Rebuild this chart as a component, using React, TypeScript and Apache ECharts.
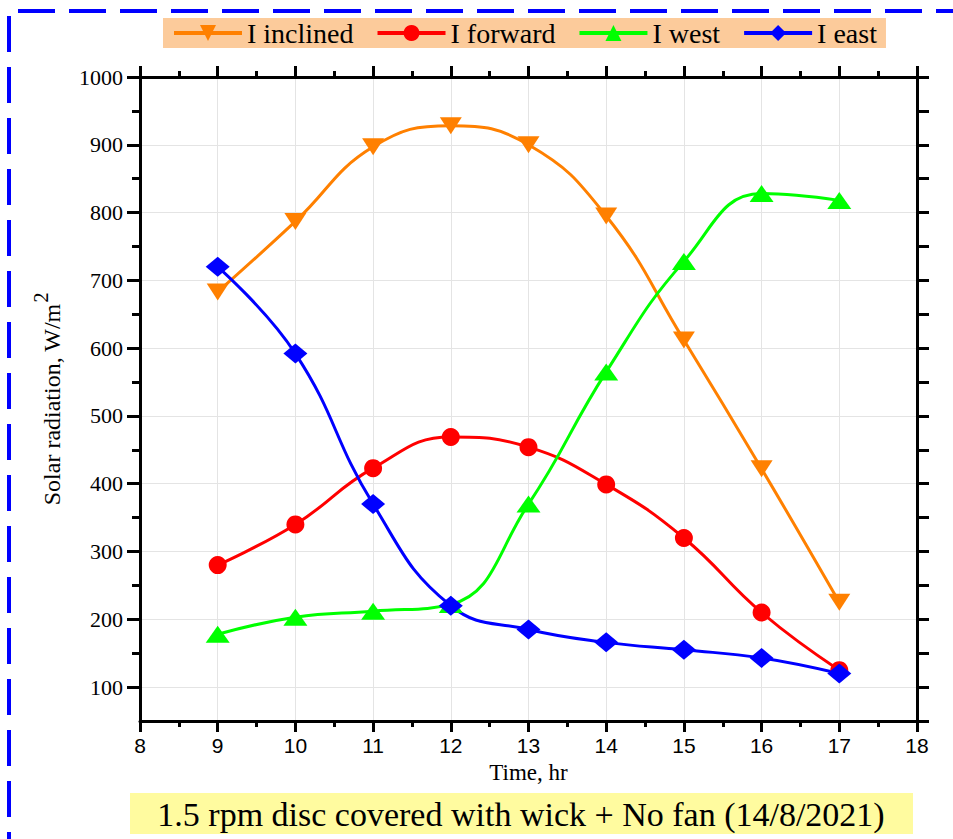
import React, { useEffect, useRef } from "react";
import * as echarts from "echarts";

// Hourly solar radiation readings (W/m²) for the four collector orientations
const hours = [9, 10, 11, 12, 13, 14, 15, 16, 17];
const inclined = [683, 787, 897, 928, 900, 795, 612, 422, 225];
const forward = [280, 340, 423, 469, 454, 399, 320, 210, 125];
const west = [178, 203, 212, 222, 370, 565, 728, 828, 818];
const east = [720, 592, 370, 220, 185, 166, 155, 143, 120];

const yMajorTicks = [100, 200, 300, 400, 500, 600, 700, 800, 900, 1000];
const yMinorTicks = [150, 250, 350, 450, 550, 650, 750, 850, 950];

const seriesNames = ["I inclined", "I forward", "I west", "I east"];
const seriesColors = ["#FF8000", "#FF0000", "#00FF00", "#0000FF"];
const caption = "1.5 rpm disc covered with wick + No fan (14/8/2021)";

const SERIF = "Liberation Serif";
const SANS = "Liberation Sans";

const pairs = (vals: number[]) => hours.map((h, i) => [h, vals[i]]);

export default function App() {
  const ref = useRef<HTMLDivElement>(null);

  useEffect(() => {
    document.body.style.margin = "0";
    const chart = echarts.init(ref.current!, null, { renderer: "svg" });

    const lineSeries = (
      idx: number,
      vals: number[],
      symbol: string,
      symbolSize: number | number[],
      symbolRotate = 0
    ) => ({
      type: "line",
      name: seriesNames[idx],
      data: pairs(vals),
      smooth: 0.45,
      symbol,
      symbolSize,
      symbolRotate,
      xAxisIndex: 0,
      yAxisIndex: 0,
      lineStyle: { color: seriesColors[idx], width: 3 },
      itemStyle: { color: seriesColors[idx] },
      z: 3,
    });

    const axisLine = { show: true, lineStyle: { color: "#000", width: 3 } };

    chart.setOption({
      animation: false,
      backgroundColor: "#fff",
      grid: { left: 140, right: 36, top: 77, bottom: 118 },
      legend: {
        data: seriesNames.map((name) => ({ name })),
        left: 163,
        top: 18,
        padding: [1, 9, 1, 9],
        itemWidth: 68,
        itemHeight: 20,
        itemGap: 22,
        lineStyle: { width: 4 },
        backgroundColor: "#FCCB9B",
        textStyle: { fontFamily: SERIF, fontSize: 28, color: "#000" },
      },
      xAxis: [
        {
          type: "value",
          position: "bottom",
          min: 8,
          max: 18,
          interval: 1,
          name: "Time, hr",
          nameLocation: "middle",
          nameGap: 38,
          nameTextStyle: { fontFamily: SERIF, fontSize: 23, color: "#000" },
          axisLine,
          axisTick: { show: true, length: 11, lineStyle: { color: "#000", width: 3 } },
          minorTick: { show: true, splitNumber: 2, length: 6, lineStyle: { color: "#000", width: 3 } },
          axisLabel: { fontFamily: SANS, fontSize: 21, color: "#000", margin: 14 },
          splitLine: { show: true, lineStyle: { color: "#e4e4e4", width: 1 } },
        },
        {
          type: "value",
          position: "top",
          min: 8,
          max: 18,
          interval: 1,
          axisLine,
          axisTick: { show: true, length: 11, lineStyle: { color: "#000", width: 3 } },
          minorTick: { show: true, splitNumber: 2, length: 6, lineStyle: { color: "#000", width: 3 } },
          axisLabel: { show: false },
          splitLine: { show: false },
        },
      ],
      yAxis: [
        {
          type: "value",
          position: "left",
          min: 50,
          max: 1000,
          name: "{a|Solar radiation, W/m}{b|2}",
          nameLocation: "middle",
          nameGap: 76,
          nameRotate: 90,
          nameTextStyle: {
            color: "#000",
            fontFamily: SERIF,
            rich: {
              a: { fontFamily: SERIF, fontSize: 24, color: "#000", lineHeight: 32, verticalAlign: "bottom" },
              b: { fontFamily: SERIF, fontSize: 20, color: "#000", lineHeight: 32, verticalAlign: "bottom", padding: [0, 0, 13, 1] },
            },
          },
          axisLine,
          axisTick: { show: true, length: 13, customValues: yMajorTicks, lineStyle: { color: "#000", width: 3 } },
          axisLabel: {
            fontFamily: SERIF,
            fontSize: 22,
            color: "#000",
            margin: 17,
            customValues: yMajorTicks,
            formatter: (v: number) => String(v),
          },
          splitLine: { show: true, lineStyle: { color: "#e4e4e4", width: 1 } },
        },
        {
          type: "value",
          position: "left",
          min: 50,
          max: 1000,
          axisLine: { show: false },
          axisTick: { show: true, length: 8, customValues: yMinorTicks, lineStyle: { color: "#000", width: 3 } },
          axisLabel: { show: false },
          splitLine: { show: false },
        },
        {
          type: "value",
          position: "right",
          min: 50,
          max: 1000,
          interval: 50,
          axisLine,
          axisTick: { show: true, length: 12, lineStyle: { color: "#000", width: 3 } },
          axisLabel: { show: false },
          splitLine: { show: false },
        },
      ],
      series: [
        lineSeries(0, inclined, "triangle", [22, 17], 180),
        lineSeries(1, forward, "circle", 18),
        lineSeries(2, west, "triangle", [24, 17]),
        lineSeries(3, east, "diamond", [24, 20]),
      ],
      graphic: [
        {
          type: "line",
          shape: { x1: 18, y1: 11, x2: 953, y2: 11 },
          style: { stroke: "#0000FF", lineWidth: 4, lineDash: [37, 14] },
        },
        {
          type: "line",
          shape: { x1: 9, y1: 16, x2: 9, y2: 839 },
          style: { stroke: "#0000FF", lineWidth: 4, lineDash: [36, 15] },
        },
        {
          type: "rect",
          shape: { x: 130, y: 793, width: 783, height: 41 },
          style: { fill: "#FFFB9F" },
        },
        {
          type: "text",
          x: 521,
          y: 814,
          style: {
            text: caption,
            fontFamily: SERIF,
            fontSize: 34,
            fill: "#000",
            textAlign: "center",
            textVerticalAlign: "middle",
          },
        },
      ],
    });

    return () => chart.dispose();
  }, []);

  return <div ref={ref} style={{ width: 953, height: 839 }} />;
}
